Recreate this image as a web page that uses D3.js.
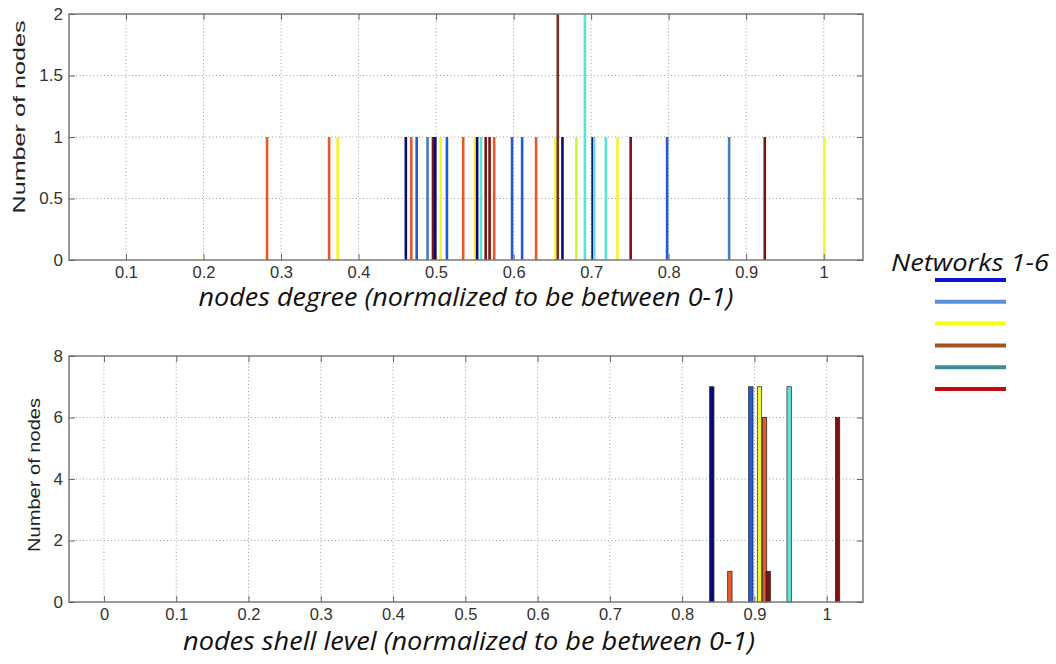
<!DOCTYPE html>
<html>
<head>
<meta charset="utf-8">
<script src="https://cdn.jsdelivr.net/npm/d3@7"></script>
<style>
  body { margin: 0; background: #fff; }
  svg { display: block; }
</style>
</head>
<body>
<svg id="chart" width="1056" height="664"></svg>
<script>
// degree histogram (top panel) - one bar per value, colour = network
var degreeValues = [0.282, 0.362, 0.373, 0.461, 0.468, 0.475, 0.489, 0.496, 0.499, 0.506,
                    0.514, 0.535, 0.550, 0.553, 0.558, 0.564, 0.569, 0.575, 0.598, 0.611,
                    0.629, 0.654, 0.657, 0.663, 0.681, 0.692, 0.702, 0.704, 0.719, 0.734,
                    0.751, 0.798, 0.878, 0.924, 1.001];
var degreeCounts = [1, 1, 1, 1, 1, 1, 1, 1, 1, 1,
                    1, 1, 1, 1, 1, 1, 1, 1, 1, 1,
                    1, 1, 2, 1, 1, 2, 1, 1, 1, 1,
                    1, 1, 1, 1, 1];
var degreeColors = ['orange', 'orange', 'yellow', 'navy', 'orange', 'blue', 'steel', 'darkred', 'navy', 'yellow',
                    'blue', 'orange', 'yellow', 'navy', 'cyan', 'darkred', 'darkred', 'orange', 'blue', 'blue',
                    'orange', 'yellow', 'brown', 'navy', 'lime', 'cyan', 'navy', 'cyan', 'cyan', 'yellow',
                    'darkred', 'blue', 'steel', 'darkred', 'yellow'];

// shell level histogram (bottom panel)
var shellValues = [0.841, 0.866, 0.895, 0.907, 0.914, 0.919, 0.948, 1.015];
var shellCounts = [7, 1, 7, 7, 6, 1, 7, 6];
var shellColors = ['navy', 'orange', 'blue', 'yellow', 'orange', 'darkred', 'cyan', 'darkred'];

var degreeTicks = [0.1, 0.2, 0.3, 0.4, 0.5, 0.6, 0.7, 0.8, 0.9, 1];
var shellTicks = [0, 0.1, 0.2, 0.3, 0.4, 0.5, 0.6, 0.7, 0.8, 0.9, 1];
var degreeYTicks = [0, 0.5, 1, 1.5, 2];
var shellYTicks = [0, 2, 4, 6, 8];

var legendTitle = 'Networks 1-6';
var legendColors = ['#0b16d2', '#5b8fd8', '#fbfb12', '#a2531f', '#3a8f9a', '#c20a0a'];

var palette = {
  navy: '#0a0a78', blue: '#2458d6', steel: '#4a7db8', cyan: '#5ee2d2',
  lime: '#d8f040', yellow: '#f4f430', orange: '#e45a2a', darkred: '#7a1410', brown: '#6e3424'
};

var svg = d3.select('#chart');
var tickFont = 'Liberation Sans, Arial, sans-serif';

function panel(opt) {
  var x = d3.scaleLinear().domain(opt.xDomain).range([opt.left, opt.right]);
  var y = d3.scaleLinear().domain(opt.yDomain).range([opt.bottom, opt.top]);
  var g = svg.append('g');

  // grid
  g.selectAll('.gx').data(opt.xTicks).enter().append('line')
    .attr('x1', d => x(d)).attr('x2', d => x(d))
    .attr('y1', opt.top).attr('y2', opt.bottom)
    .attr('stroke', '#a0a0a0').attr('stroke-width', 1).attr('stroke-dasharray', '1,2.5');
  g.selectAll('.gy').data(opt.yTicks.slice(1, -1)).enter().append('line')
    .attr('y1', d => y(d)).attr('y2', d => y(d))
    .attr('x1', opt.left).attr('x2', opt.right)
    .attr('stroke', '#a0a0a0').attr('stroke-width', 1).attr('stroke-dasharray', '1,2.5');

  // bars
  g.selectAll('.bar').data(opt.values).enter().append('rect')
    .attr('x', (d, i) => x(d) - opt.barW / 2)
    .attr('width', opt.barW)
    .attr('y', (d, i) => y(opt.counts[i]))
    .attr('height', (d, i) => y(0) - y(opt.counts[i]))
    .attr('fill', (d, i) => palette[opt.colors[i]])
    .attr('stroke', opt.outline ? '#222' : 'none')
    .attr('stroke-width', opt.outline ? 0.7 : 0);

  // frame
  g.append('rect')
    .attr('x', opt.left).attr('y', opt.top)
    .attr('width', opt.right - opt.left).attr('height', opt.bottom - opt.top)
    .attr('fill', 'none').attr('stroke', '#7a7a7a').attr('stroke-width', 1.5);

  // inward ticks, matlab style
  var xb = d3.axisBottom(x).tickValues(opt.xTicks).tickSizeInner(-6).tickSizeOuter(0)
    .tickPadding(6).tickFormat(d3.format('~g'));
  var ax = g.append('g').attr('transform', 'translate(0,' + opt.bottom + ')').call(xb);
  ax.select('.domain').remove();
  ax.selectAll('line').attr('stroke', '#666');
  ax.selectAll('text').attr('font-family', tickFont)
    .style('font-size', '16.5px').attr('fill', '#333');

  var xt = d3.axisTop(x).tickValues(opt.xTicks).tickSizeInner(-6).tickSizeOuter(0).tickFormat('');
  var axt = g.append('g').attr('transform', 'translate(0,' + opt.top + ')').call(xt);
  axt.select('.domain').remove();
  axt.selectAll('line').attr('stroke', '#666');

  var yl = d3.axisLeft(y).tickValues(opt.yTicks).tickSizeInner(-6).tickSizeOuter(0)
    .tickPadding(6).tickFormat(d3.format('~g'));
  var ay = g.append('g').attr('transform', 'translate(' + opt.left + ',0)').call(yl);
  ay.select('.domain').remove();
  ay.selectAll('line').attr('stroke', '#666');
  ay.selectAll('text').attr('font-family', tickFont)
    .style('font-size', '17px').attr('fill', '#333');

  var yr = d3.axisRight(y).tickValues(opt.yTicks).tickSizeInner(-6).tickSizeOuter(0).tickFormat('');
  var ayr = g.append('g').attr('transform', 'translate(' + opt.right + ',0)').call(yr);
  ayr.select('.domain').remove();
  ayr.selectAll('line').attr('stroke', '#666');

  // titles
  g.append('text')
    .attr('x', opt.xLabelX).attr('y', opt.xLabelY)
    .attr('text-anchor', 'middle')
    .attr('font-family', 'Open Sans, sans-serif').attr('font-style', 'italic')
    .style('font-size', '25px').attr('fill', '#111')
    .attr('textLength', opt.xLabelLen).attr('lengthAdjust', 'spacingAndGlyphs')
    .text(opt.xLabel);

  g.append('text')
    .attr('transform', 'translate(' + opt.yLabelX + ',' + opt.yLabelY + ') rotate(-90)')
    .attr('text-anchor', 'middle')
    .attr('font-family', tickFont)
    .style('font-size', opt.yLabelSize + 'px').attr('fill', '#222')
    .attr('textLength', opt.yLabelLen).attr('lengthAdjust', 'spacingAndGlyphs')
    .text('Number of nodes');
}

panel({
  left: 69, right: 863, top: 14, bottom: 260,
  xDomain: [0.0265, 1.0507], yDomain: [0, 2],
  xTicks: degreeTicks, yTicks: degreeYTicks,
  values: degreeValues, counts: degreeCounts, colors: degreeColors,
  barW: 2.6, outline: false,
  xLabel: 'nodes degree (normalized to be between 0-1)', xLabelX: 466, xLabelY: 306, xLabelLen: 535,
  yLabelX: 25, yLabelY: 117, yLabelSize: 17, yLabelLen: 193
});

panel({
  left: 69, right: 863, top: 356, bottom: 602,
  xDomain: [-0.0484, 1.0502], yDomain: [0, 8],
  xTicks: shellTicks, yTicks: shellYTicks,
  values: shellValues, counts: shellCounts, colors: shellColors,
  barW: 4.4, outline: true,
  xLabel: 'nodes shell level (normalized to be between 0-1)', xLabelX: 469, xLabelY: 650, xLabelLen: 572,
  yLabelX: 40, yLabelY: 475, yLabelSize: 16, yLabelLen: 154
});

// legend (no labels, just the six line swatches)
var lg = svg.append('g');
lg.append('text')
  .attr('x', 970).attr('y', 271).attr('text-anchor', 'middle')
  .attr('font-family', 'Open Sans, sans-serif').attr('font-style', 'italic')
  .style('font-size', '24px').attr('fill', '#111')
  .attr('textLength', 158).attr('lengthAdjust', 'spacingAndGlyphs')
  .text(legendTitle);

var ly = d3.scalePoint().domain(d3.range(legendColors.length)).range([280, 389]);
lg.selectAll('line').data(legendColors).enter().append('line')
  .attr('x1', 935).attr('x2', 1006)
  .attr('y1', (d, i) => ly(i)).attr('y2', (d, i) => ly(i))
  .attr('stroke', d => d).attr('stroke-width', 4);
</script>
</body>
</html>
